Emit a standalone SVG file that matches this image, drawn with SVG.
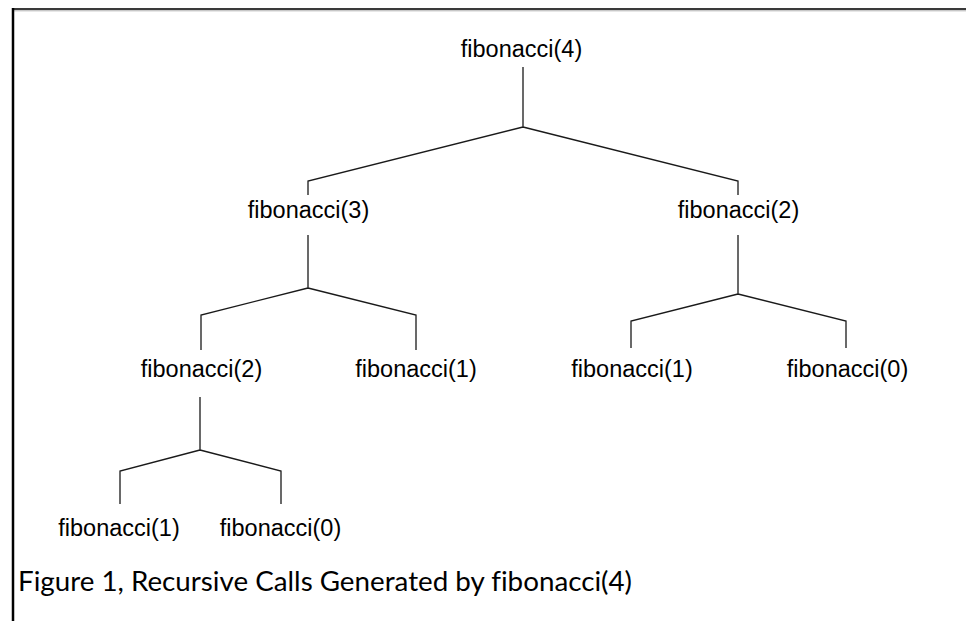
<svg xmlns="http://www.w3.org/2000/svg" width="966" height="621" viewBox="0 0 966 621">
<style>
.n{font-family:"Liberation Sans",Arial,sans-serif;font-size:23.5px;fill:#000;text-anchor:middle}
.c{stroke:#1a1a1a;stroke-width:1.3;fill:none}
.cap{font-family:Lato,"Open Sans",sans-serif;font-size:26px;fill:#000;font-variant-ligatures:none}
</style>
<rect width="966" height="621" fill="#fff"/>
<g id="frame">
<line x1="12" y1="9" x2="966" y2="9" stroke="#3a3a3a" stroke-width="2"/>
<line x1="12" y1="10.8" x2="966" y2="10.8" stroke="#b0b0b0" stroke-width="1"/>
<line x1="13" y1="8" x2="13" y2="621" stroke="#000" stroke-width="2.5"/>
</g>
<g id="connectors" class="c">
<path d="M523 67V127M523 127L308 181V195M523 127L738 181V195"/>
<path d="M308 235V288M308 288L201 315V350M308 288L416 315V350"/>
<path d="M738 235V294M738 294L631 321V348M738 294L846 321V348"/>
<path d="M200 397V450M200 450L120 471V504M200 450L281 471V504"/>
</g>
<g id="n4"><text class="n" x="521.5" y="57">fibonacci(4)</text></g>
<g id="n3"><text class="n" x="308.5" y="218">fibonacci(3)</text></g>
<g id="n2r"><text class="n" x="738.5" y="218">fibonacci(2)</text></g>
<g id="n2l"><text class="n" x="201.5" y="377">fibonacci(2)</text></g>
<g id="n1m"><text class="n" x="416" y="377">fibonacci(1)</text></g>
<g id="n1r"><text class="n" x="632" y="377">fibonacci(1)</text></g>
<g id="n0r"><text class="n" x="847.5" y="377">fibonacci(0)</text></g>
<g id="n1b"><text class="n" x="119" y="536">fibonacci(1)</text></g>
<g id="n0b"><text class="n" x="280.5" y="536">fibonacci(0)</text></g>
<text class="cap" x="18" y="591" textLength="614" lengthAdjust="spacingAndGlyphs">Figure 1, Recursive Calls Generated by fibonacci(4)</text>
</svg>
